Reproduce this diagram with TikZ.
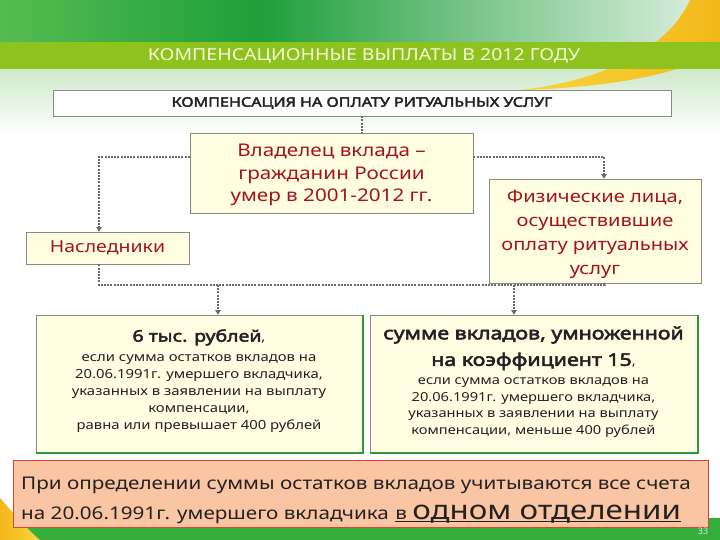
\documentclass[tikz,border=0pt]{standalone}
\usepackage{fontspec}
\setmainfont{Noto Sans}
\newfontfamily\wide[FakeStretch=1.18]{Noto Sans}
\newfontfamily\widebf[FakeStretch=1.22, FakeBold=3]{Noto Sans}
\usetikzlibrary{arrows.meta,calc}
\definecolor{gA}{HTML}{55BC50}
\definecolor{gB}{HTML}{1F9F3B}
\definecolor{gC}{HTML}{E2F1E4}
\definecolor{lime}{HTML}{8DC21F}
\definecolor{lgreen}{HTML}{CFE9CB}
\definecolor{yelA}{HTML}{F7D63C}
\definecolor{yelB}{HTML}{F3B81A}
\definecolor{boxfill}{HTML}{FFFDE2}
\definecolor{boxline}{HTML}{8A8A80}
\definecolor{dred}{HTML}{A3141C}
\definecolor{txt}{HTML}{222222}
\definecolor{notefill}{HTML}{FAC5A2}
\definecolor{noteline}{HTML}{DD4430}
\definecolor{bgreen}{HTML}{36AE3B}
\definecolor{conn}{HTML}{6A6A6A}
\definecolor{shadowgreen}{HTML}{2F9A35}
\definecolor{titletxt}{HTML}{F6FAD6}
\tikzset{
  panel/.style={draw=boxline, line width=0.6pt, fill=boxfill, inner sep=0pt},
  redtxt/.style={text=dred, align=center, font=\wide\fontsize{17.5}{22.5}\selectfont},
  link/.style={draw=conn, line width=1.3pt, dash pattern=on 2pt off 1.2pt},
  tip/.style={-{Triangle[width=5.5pt,length=4.5pt]}},
  greenedge/.style={draw=shadowgreen, line width=2.4pt}
}
\begin{document}
\begin{tikzpicture}[x=1pt,y=-1pt]
\useasboundingbox (0,0) rectangle (720,540);
% background
\fill[white] (0,0) rectangle (720,540);
\shade[left color=gA, right color=gB] (0,0) rectangle (260,42);
\shade[left color=gB, right color=gC] (260,0) rectangle (720,42);
\shade[top color=lgreen, bottom color=white] (0,69) rectangle (720,135);
\shade[left color=yelA, right color=yelB]
  (520,90) .. controls (610,80) and (670,45) .. (690,0) -- (720,0) -- (720,50)
  .. controls (680,76) and (600,88) .. (520,90) -- cycle;
\fill[lime] (0,42) rectangle (720,69);
\node[text=titletxt, font=\wide\fontsize{16.5}{18}\selectfont] (title) at (364,56) {КОМПЕНСАЦИОННЫЕ ВЫПЛАТЫ В 2012 ГОДУ};
% bottom band
\fill[bgreen] (0,518) rectangle (720,540);
\shade[left color=yelB, right color=yelA] (0,498) .. controls (15,515) and (28,530) .. (40,540) -- (0,540) -- cycle;

% nodes
\node[draw=boxline, line width=0.6pt, fill=white, minimum width=618pt, minimum height=26pt, inner sep=0pt,
      font=\widebf\fontsize{13.2}{14}\selectfont, text=txt] (top) at (362,103) {КОМПЕНСАЦИЯ НА ОПЛАТУ РИТУАЛЬНЫХ УСЛУГ};
\node[panel, minimum width=283pt, minimum height=80pt] (owner) at (331.5,173) {};
\node[redtxt] (ownertxt) at ([yshift=-2pt]owner.center) {Владелец вклада –\\гражданин России\\умер в 2001-2012 гг.};
\node[panel, minimum width=163pt, minimum height=32pt] (heirs) at (107.5,248) {};
\node[redtxt, font=\wide\fontsize{16.5}{20}\selectfont] (heirstxt) at (heirs.center) {Наследники};
\node[panel, minimum width=212pt, minimum height=104pt] (phys) at (595,231) {};
\node[redtxt, font=\wide\fontsize{17}{24}\selectfont] (phystxt) at ([yshift=-3pt]phys.center) {Физические лица,\\осуществившие\\оплату ритуальных\\услуг};

\node[panel, minimum width=326pt, minimum height=137pt] (left) at (199,383.5) {};
\node[panel, minimum width=327pt, minimum height=137pt] (right) at (533.5,383.5) {};
\draw[greenedge] ([xshift=0.5pt]left.north east) -- ([xshift=0.5pt,yshift=-0.5pt]left.south east) -- ([yshift=-0.5pt]left.south west);
\draw[greenedge] ([xshift=0.5pt]right.north east) -- ([xshift=0.5pt,yshift=-0.5pt]right.south east) -- ([yshift=-0.5pt]right.south west);

\node[align=center, text=txt, font=\wide\fontsize{12.6}{17}\selectfont] (lefttxt) at (199,381)
  {{\widebf\fontsize{16}{18}\selectfont 6 тыс. рублей},\\[3pt]
   если сумма остатков вкладов на\\20.06.1991г. умершего вкладчика,\\указанных в заявлении на выплату\\компенсации,\\равна или превышает 400 рублей};
\node[align=center, text=txt, font=\wide\fontsize{12.4}{16.7}\selectfont] (righttxt) at (533.5,382)
  {{\widebf\fontsize{17.5}{25}\selectfont сумме вкладов, умноженной}\\[8pt]
   {\widebf\fontsize{17.5}{25}\selectfont на коэффициент 15},\\[2pt]
   если сумма остатков вкладов на\\20.06.1991г. умершего вкладчика,\\указанных в заявлении на выплату\\компенсации, меньше 400 рублей};

\node[draw=noteline, line width=0.9pt, fill=notefill, minimum width=695pt, minimum height=67pt, inner sep=0pt] (note) at (360.5,493.5) {};
\node[anchor=base west, text=txt, font=\wide\fontsize{17.5}{20}\selectfont, inner sep=0pt] (note1) at (21,489)
  {При определении суммы остатков вкладов учитываются все счета};
\node[anchor=base west, text=txt, font=\wide\fontsize{17.5}{20}\selectfont, inner sep=0pt] (note2) at (21,519)
  {на 20.06.1991г. умершего вкладчика};
\node[anchor=base west, text=txt, font=\wide\fontsize{17.5}{20}\selectfont, inner sep=0pt] (note3) at ([xshift=6pt]note2.base east)
  {в {\fontsize{26.5}{28}\selectfont одном отделении}};
\draw[txt, line width=1.6pt] ([yshift=-2.5pt]note3.base west) -- ([yshift=-2.5pt]note3.base east);
\node[text=white, opacity=0.75, font=\fontsize{9}{10}\selectfont] (pnum) at (703,531) {33};

% connectors
\draw[link] (top.south) -- (top.south |- owner.north);
\draw[link, tip] ([yshift=16pt]owner.west) -| ([xshift=-8.5pt]heirs.north);
\draw[link, tip] ([yshift=16pt]owner.east) -| ([xshift=9pt]phys.north);
\coordinate (busR) at (605,285);
\coordinate (jL) at (218,285);
\coordinate (jR) at (514,285);
\draw[link] ([xshift=-8.5pt]heirs.south) |- (busR) -- (busR |- phys.south);
\draw[link, tip] (jL) -- (jL |- left.north);
\draw[link, tip] (jR) -- (jR |- right.north);
\end{tikzpicture}
\end{document}
